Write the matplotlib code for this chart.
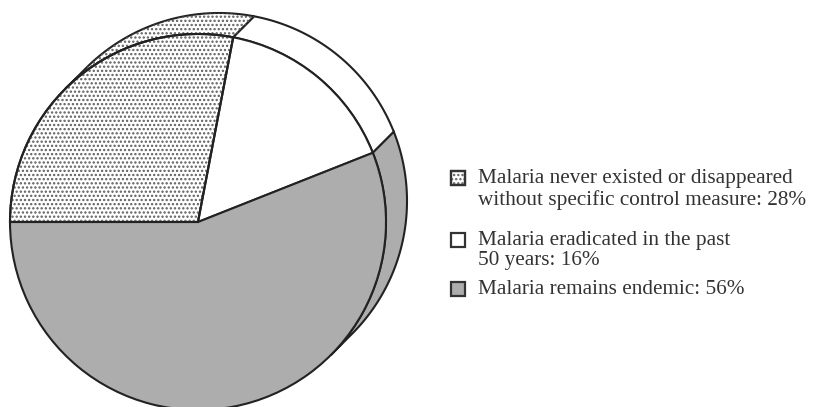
import numpy as np
import matplotlib.pyplot as plt
from matplotlib.patches import Polygon, Wedge, Rectangle

# data
shares = [28, 16, 56]
legend_lines = [
    ["Malaria never existed or disappeared", "without specific control measure: 28%"],
    ["Malaria eradicated in the past", "50 years: 16%"],
    ["Malaria remains endemic: 56%"],
]
fills = ["white", "white", "#adadad"]
hatches = ["....", None, None]

plt.rcParams["hatch.linewidth"] = 1.1

W, H = 819, 407
fig = plt.figure(figsize=(W / 100, H / 100), dpi=100)
ax = fig.add_axes([0, 0, 1, 1])

# pie geometry (1 data unit = 1 pixel, y up)
cx, cy, r = 198, 185, 188
dx, dy = 21, 21
edge = "#222222"
dot = "#5c5c5c"

bounds = 180 - np.cumsum([0] + shares) * 3.6
vis_lo, vis_hi = -45, 135

# side band of the "disc"
for i in range(len(shares)):
    hi = min(bounds[i], vis_hi)
    lo = max(bounds[i + 1], vis_lo)
    if hi <= lo:
        continue
    t = np.radians(np.linspace(hi, lo, 120))
    front = np.c_[cx + r * np.cos(t), cy + r * np.sin(t)]
    back = front[::-1] + [dx, dy]
    pts = np.vstack([front, back])
    ax.add_patch(Polygon(pts, closed=True, fc=fills[i], ec=edge, lw=1.5, zorder=1))
    if hatches[i]:
        ax.add_patch(Polygon(pts, closed=True, fc="none", ec=dot, lw=0,
                             hatch=hatches[i], zorder=1.5))

# front face
wedges, _ = ax.pie(shares, startangle=180, counterclock=False, center=(cx, cy),
                   radius=r, colors=fills, frame=True,
                   wedgeprops=dict(ec=edge, lw=1.5, zorder=2))
for w, h in zip(wedges, hatches):
    if h:
        ax.add_patch(Wedge(w.center, w.r, w.theta1, w.theta2, fc="none", ec=dot,
                           lw=0, hatch=h, zorder=2.5))
        # redraw outline on top of dots
        ax.add_patch(Wedge(w.center, w.r, w.theta1, w.theta2, fc="none", ec=edge,
                           lw=1.5, zorder=2.6))

# legend
box_x, box_s = 451, 14
text_x = 478
rows_y = [[178, 200], [240, 261], [289]]
for i, lines in enumerate(legend_lines):
    yc = H - rows_y[i][0]
    ax.add_patch(Rectangle((box_x, yc - box_s / 2), box_s, box_s, fc=fills[i],
                           ec="#333333", lw=1.6, zorder=3))
    if hatches[i]:
        ax.add_patch(Rectangle((box_x, yc - box_s / 2), box_s, box_s, fc="none",
                               ec=dot, lw=0, hatch="....", zorder=3.5))
        ax.add_patch(Rectangle((box_x, yc - box_s / 2), box_s, box_s, fc="none",
                               ec="#333333", lw=1.6, zorder=3.6))
    for line, y in zip(lines, rows_y[i]):
        ax.text(text_x, H - y, line, fontsize=15.3, family="Liberation Serif",
                color="#333333", va="center", ha="left")

ax.set_xlim(0, W)
ax.set_ylim(0, H)
ax.set_aspect("auto")
ax.axis("off")

fig.savefig("out.png", dpi=100, facecolor="white")
